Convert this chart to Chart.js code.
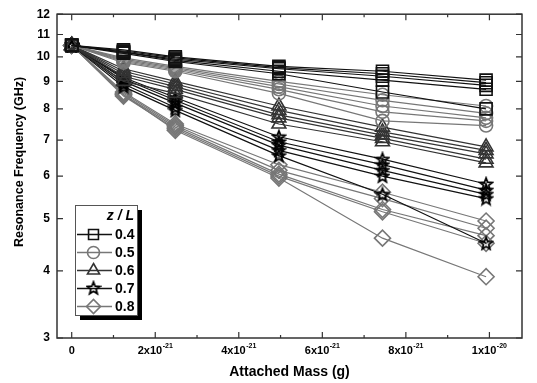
<!DOCTYPE html>
<html><head><meta charset="utf-8">
<script src="https://cdn.jsdelivr.net/npm/chart.js@4"></script>
<style>html,body{margin:0;padding:0;background:#fff}#wrap{width:537px;height:383px}</style>
</head><body><div id="wrap"><canvas id="c" width="537" height="383"></canvas></div>
<script>
// ---- data ----
const xValues = [0, 1.24e-21, 2.48e-21, 4.96e-21, 7.44e-21, 9.92e-21];
const zLabels = ['0.4', '0.5', '0.6', '0.7', '0.8'];
const freqZ04 = [
  [10.5, 10.3, 10.0, 9.6, 9.4, 9.05],
  [10.5, 10.25, 9.95, 9.55, 9.3, 8.95],
  [10.5, 10.2, 9.9, 9.5, 9.2, 8.85],
  [10.5, 10.2, 9.85, 9.4, 9.05, 8.7],
  [10.5, 10.15, 9.8, 9.3, 8.6, 8.0]
];
const freqZ05 = [
  [10.5, 9.95, 9.6, 9.0, 8.5, 8.1],
  [10.5, 9.9, 9.55, 8.9, 8.3, 7.85],
  [10.5, 9.85, 9.5, 8.8, 8.1, 7.7],
  [10.5, 9.8, 9.45, 8.7, 7.9, 7.6],
  [10.5, 9.75, 9.4, 8.55, 7.6, 7.45]
];
const freqZ06 = [
  [10.5, 9.5, 9.0, 8.1, 7.4, 6.8],
  [10.5, 9.4, 8.9, 7.95, 7.25, 6.7],
  [10.5, 9.3, 8.8, 7.8, 7.15, 6.6],
  [10.5, 9.2, 8.7, 7.7, 7.05, 6.45],
  [10.5, 9.0, 8.55, 7.5, 6.95, 6.35]
];
const freqZ07 = [
  [10.5, 9.15, 8.4, 7.1, 6.45, 5.8],
  [10.5, 9.1, 8.3, 6.95, 6.3, 5.65],
  [10.5, 9.0, 8.2, 6.85, 6.15, 5.55],
  [10.5, 8.9, 8.05, 6.7, 6.0, 5.45],
  [10.5, 8.8, 7.95, 6.55, 5.55, 4.5]
];
const freqZ08 = [
  [10.5, 8.6, 7.5, 6.3, 5.6, 4.95],
  [10.5, 8.55, 7.45, 6.15, 5.45, 4.8],
  [10.5, 8.5, 7.4, 6.05, 5.2, 4.65],
  [10.5, 8.45, 7.35, 6.0, 5.15, 4.5],
  [10.5, 8.5, 7.3, 5.95, 4.6, 3.9]
];
const yTickValues = [3, 4, 5, 6, 7, 8, 9, 10, 11, 12];
const xTickValues = [0, 2e-21, 4e-21, 6e-21, 8e-21, 1e-20];
const xTickBase = ['0', '2x10', '4x10', '6x10', '8x10', '1x10'];
const xTickExp = ['', '-21', '-21', '-21', '-21', '-20'];
const xMinorTickValues = [1e-21, 3e-21, 5e-21, 7e-21, 9e-21];

// ---- styles ----
const FONT = "'Liberation Sans', Arial, sans-serif";
const groups = [freqZ04, freqZ05, freqZ06, freqZ07, freqZ08];
const groupStyle = [
  {shape: 'rect', color: '#111', line: '#111', r: 8.5},
  {shape: 'circle', color: '#777', line: '#777', r: 6.5},
  {shape: 'triangle', color: '#333', line: '#333', r: 8},
  {shape: 'star', color: '#000', line: '#111', r: 7},
  {shape: 'rectRot', color: '#777', line: '#777', r: 8}
];

function makeStar(color, lw, ro, ri) {
  const c = document.createElement('canvas');
  c.width = 16; c.height = 16;
  const g = c.getContext('2d');
  g.beginPath();
  for (let i = 0; i < 10; i++) {
    const rr = i % 2 === 0 ? ro : ri;
    const a = -Math.PI / 2 + i * Math.PI / 5;
    const px = 8 + rr * Math.cos(a), py = 8.5 + rr * Math.sin(a);
    if (i === 0) g.moveTo(px, py); else g.lineTo(px, py);
  }
  g.closePath();
  g.strokeStyle = color; g.lineWidth = lw; g.lineJoin = 'miter';
  g.stroke();
  return c;
}
const starImg = makeStar('#000', 1.8, 6.5, 2.8);

const datasets = [];
groups.forEach((grp, gi) => {
  const st = groupStyle[gi];
  grp.forEach((series) => {
    datasets.push({
      data: xValues.map((x, i) => ({x: x, y: series[i]})),
      borderColor: st.line,
      borderWidth: 1.2,
      pointStyle: st.shape === 'star' ? starImg : st.shape,
      pointRadius: st.r,
      pointBorderColor: st.color,
      pointBorderWidth: 1.6,
      pointBackgroundColor: 'rgba(0,0,0,0)',
      tension: 0
    });
  });
});

function drawMarker(ctx, shape, x, y, r, color) {
  if (shape === 'star') { ctx.drawImage(starImg, x - 8, y - 8.5); return; }
  ctx.save();
  ctx.strokeStyle = color; ctx.lineWidth = 1.6;
  ctx.beginPath();
  if (shape === 'rect') {
    const s = Math.SQRT1_2 * r; ctx.rect(x - s, y - s, 2 * s, 2 * s);
  } else if (shape === 'circle') {
    ctx.arc(x, y, r, 0, Math.PI * 2);
  } else if (shape === 'triangle') {
    let a = 0;
    ctx.moveTo(x + Math.sin(a) * r, y - Math.cos(a) * r);
    a += 2 * Math.PI / 3; ctx.lineTo(x + Math.sin(a) * r, y - Math.cos(a) * r);
    a += 2 * Math.PI / 3; ctx.lineTo(x + Math.sin(a) * r, y - Math.cos(a) * r);
    ctx.closePath();
  } else if (shape === 'rectRot') {
    ctx.moveTo(x - r, y); ctx.lineTo(x, y - r); ctx.lineTo(x + r, y); ctx.lineTo(x, y + r); ctx.closePath();
  }
  ctx.stroke();
  ctx.restore();
}

const decorPlugin = {
  id: 'decor',
  afterDatasetsDraw(chart) {
    const ctx = chart.ctx, a = chart.chartArea;
    const xs = chart.scales.x, ys = chart.scales.y;
    ctx.save();
    // frame
    ctx.strokeStyle = '#333'; ctx.lineWidth = 1.5;
    ctx.strokeRect(a.left, a.top, a.right - a.left, a.bottom - a.top);
    // ticks
    ctx.lineWidth = 1.2;
    ctx.beginPath();
    xTickValues.forEach(v => {
      const p = xs.getPixelForValue(v);
      ctx.moveTo(p, a.bottom); ctx.lineTo(p, a.bottom - 6);
      ctx.moveTo(p, a.top); ctx.lineTo(p, a.top + 6);
    });
    xMinorTickValues.forEach(v => {
      const p = xs.getPixelForValue(v);
      ctx.moveTo(p, a.bottom); ctx.lineTo(p, a.bottom - 3);
      ctx.moveTo(p, a.top); ctx.lineTo(p, a.top + 3);
    });
    yTickValues.forEach(v => {
      const p = ys.getPixelForValue(v);
      ctx.moveTo(a.left, p); ctx.lineTo(a.left + 6, p);
      ctx.moveTo(a.right, p); ctx.lineTo(a.right - 6, p);
    });
    ctx.stroke();
    // x tick labels with superscripts
    ctx.fillStyle = '#000';
    ctx.textBaseline = 'alphabetic'; ctx.textAlign = 'left';
    xTickValues.forEach((v, i) => {
      const p = xs.getPixelForValue(v);
      ctx.font = 'bold 11px ' + FONT;
      const wb = ctx.measureText(xTickBase[i]).width;
      ctx.font = 'bold 7px ' + FONT;
      const we = xTickExp[i] ? ctx.measureText(xTickExp[i]).width + 0.5 : 0;
      const s = p - (wb + we) / 2;
      ctx.font = 'bold 11px ' + FONT;
      ctx.fillText(xTickBase[i], s, 354);
      if (xTickExp[i]) { ctx.font = 'bold 7px ' + FONT; ctx.fillText(xTickExp[i], s + wb + 0.5, 348); }
    });
    // y title
    ctx.save();
    ctx.translate(20, 162); ctx.rotate(-Math.PI / 2);
    ctx.font = 'bold 12.5px ' + FONT; ctx.textAlign = 'center'; ctx.textBaseline = 'middle';
    ctx.fillText('Resonance Frequency (GHz)', 0, 0);
    ctx.restore();
    // legend
    const L = 75, T = 205, R = 137, B = 315;
    ctx.fillStyle = '#000';
    ctx.fillRect(L + 5, T + 5, R - L, B - T);
    ctx.fillStyle = '#fff';
    ctx.fillRect(L, T, R - L, B - T);
    ctx.strokeStyle = '#555'; ctx.lineWidth = 1;
    ctx.strokeRect(L + 0.5, T + 0.5, R - L, B - T);
    ctx.fillStyle = '#000';
    ctx.font = 'italic bold 14px ' + FONT; ctx.textAlign = 'right'; ctx.textBaseline = 'middle';
    ctx.fillText('z / L', 134, 216.5);
    ctx.textAlign = 'left';
    ctx.font = 'bold 14px ' + FONT;
    zLabels.forEach((lab, i) => {
      const cy = 234.5 + i * 18;
      const st = groupStyle[i];
      ctx.strokeStyle = st.line; ctx.lineWidth = 1.3;
      ctx.beginPath(); ctx.moveTo(77, cy); ctx.lineTo(112, cy); ctx.stroke();
      drawMarker(ctx, st.shape, 93.5, cy, st.shape === 'circle' ? 6 : 7, st.color);
      ctx.fillStyle = '#000';
      ctx.fillText(lab, 115, cy + 1);
    });
    ctx.restore();
  }
};

new Chart(document.getElementById('c'), {
  type: 'line',
  data: {datasets: datasets},
  options: {
    responsive: false,
    animation: false,
    events: [],
    layout: {padding: {top: 13, right: 15, left: 0, bottom: 0}},
    plugins: {legend: {display: false}, tooltip: {enabled: false}, title: {display: false}},
    scales: {
      x: {
        type: 'linear', min: -0.352e-21, max: 10.78e-21,
        grid: {display: false, drawTicks: false},
        border: {display: false},
        ticks: {display: false},
        title: {display: true, text: 'Attached Mass (g)', color: '#000',
                font: {family: FONT, size: 14, weight: 'bold'}, padding: {top: 0, bottom: 2}},
        afterFit: (s) => { s.height = 45; }
      },
      y: {
        type: 'logarithmic', min: 3, max: 12,
        grid: {display: false, drawTicks: false},
        border: {display: false},
        afterBuildTicks: (s) => { s.ticks = yTickValues.map(v => ({value: v})); },
        ticks: {color: '#000', padding: 7, font: {family: FONT, size: 12, weight: 'bold'},
                callback: (v) => String(v)},
        afterFit: (s) => { s.width = 57; }
      }
    }
  },
  plugins: [decorPlugin]
});
</script>
</body></html>
